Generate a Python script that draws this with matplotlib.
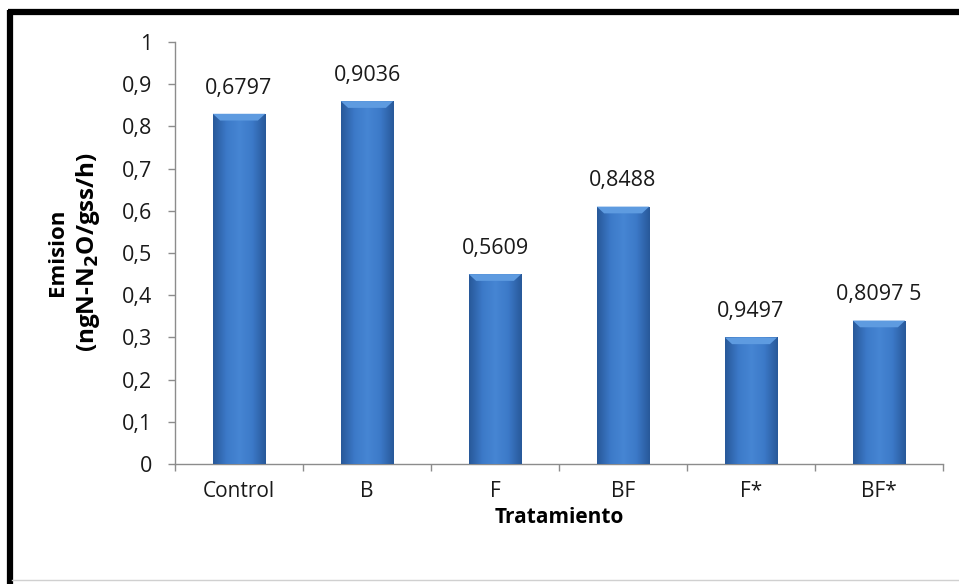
import numpy as np
import matplotlib
matplotlib.use("Agg")
import matplotlib.pyplot as plt
from matplotlib.colors import LinearSegmentedColormap
from matplotlib.lines import Line2D
from matplotlib.patches import Polygon

plt.rcParams['font.family'] = ['Open Sans', 'DejaVu Sans']

categories = ["Control", "B", "F", "BF", "F*", "BF*"]
emission = [0.83, 0.86, 0.45, 0.61, 0.30, 0.34]
bar_labels = ["0,6797", "0,9036", "0,5609", "0,8488", "0,9497", "0,8097 5"]
y_ticks = [0, 0.1, 0.2, 0.3, 0.4, 0.5, 0.6, 0.7, 0.8, 0.9, 1.0]
y_tick_labels = ["0", "0,1", "0,2", "0,3", "0,4", "0,5", "0,6", "0,7", "0,8", "0,9", "1"]

fig = plt.figure(figsize=(9.59, 5.84), dpi=100)
ax = fig.add_axes([0.1825, 0.2055, 0.8008, 0.7225])

x = np.arange(len(categories))
bar_width = 0.41
bars = ax.bar(x, emission, width=bar_width, color="#3b77c4", zorder=2)

# horizontal shading for a bevelled look
shade = LinearSegmentedColormap.from_list(
    "bevel", ["#28599a", "#3c79c8", "#4686d3", "#3c79c8", "#28599a"])
grad = np.linspace(0, 1, 64).reshape(1, -1)
for b in bars:
    x0, w, h = b.get_x(), b.get_width(), b.get_height()
    im = ax.imshow(grad, cmap=shade, aspect="auto", extent=(x0, x0 + w, 0, h),
                   zorder=3, interpolation="bicubic")
    im.set_clip_path(b)
    # lighter bevel along the top edge
    cap = Polygon([(x0, h), (x0 + w, h), (x0 + w * 0.86, h - 0.016),
                   (x0 + w * 0.14, h - 0.016)], closed=True,
                  facecolor="#5e9be0", edgecolor="none", zorder=4)
    ax.add_patch(cap)

for xi, val, lab in zip(x, emission, bar_labels):
    ax.annotate(lab, (xi, val), xytext=(0, 11), textcoords="offset points",
                ha="center", va="bottom", fontsize=15.5, color="#1a1a1a")

ax.set_xlim(-0.5, len(categories) - 0.5)
ax.set_ylim(0, 1.0)
ax.set_yticks(y_ticks)
ax.set_yticklabels(y_tick_labels, fontsize=15.5, color="#1a1a1a")
ax.set_xticks(x)
ax.set_xticklabels(categories, fontsize=15, color="#1a1a1a")
ax.tick_params(axis="x", length=0, pad=12)
ax.set_xticks(np.arange(-0.5, len(categories), 1.0), minor=True)
ax.tick_params(axis="x", which="minor", length=5, color="#8c8c8c", width=1)
ax.tick_params(axis="y", length=5, color="#8c8c8c", width=1, pad=11.5)

for side in ["top", "right"]:
    ax.spines[side].set_visible(False)
for side in ["left", "bottom"]:
    ax.spines[side].set_color("#8c8c8c")
    ax.spines[side].set_linewidth(1)

ax.set_xlabel("Tratamiento", fontsize=15, fontweight="bold", labelpad=4)
fig.text(0.060, 0.568, "Emision", rotation=90, ha="center", va="center",
         fontsize=16, fontweight="bold")
fig.text(0.092, 0.568, r"(ngN-N$_\mathbf{2}$O/gss/h)", rotation=90,
         ha="center", va="center", fontsize=17.5, fontweight="bold")

# outer frame: heavy black top/left, faint grey bottom
fig.add_artist(Line2D([0.0085, 1.0], [0.979, 0.979], color="black", lw=4.5,
                      transform=fig.transFigure, solid_capstyle="butt"))
fig.add_artist(Line2D([0.0105, 0.0105], [0.983, 0.0], color="black", lw=4.5,
                      transform=fig.transFigure, solid_capstyle="butt"))
fig.add_artist(Line2D([0.013, 1.0], [0.006, 0.006], color="#d0d0d0", lw=1.0,
                      transform=fig.transFigure))

fig.savefig("out.png", dpi=100)
